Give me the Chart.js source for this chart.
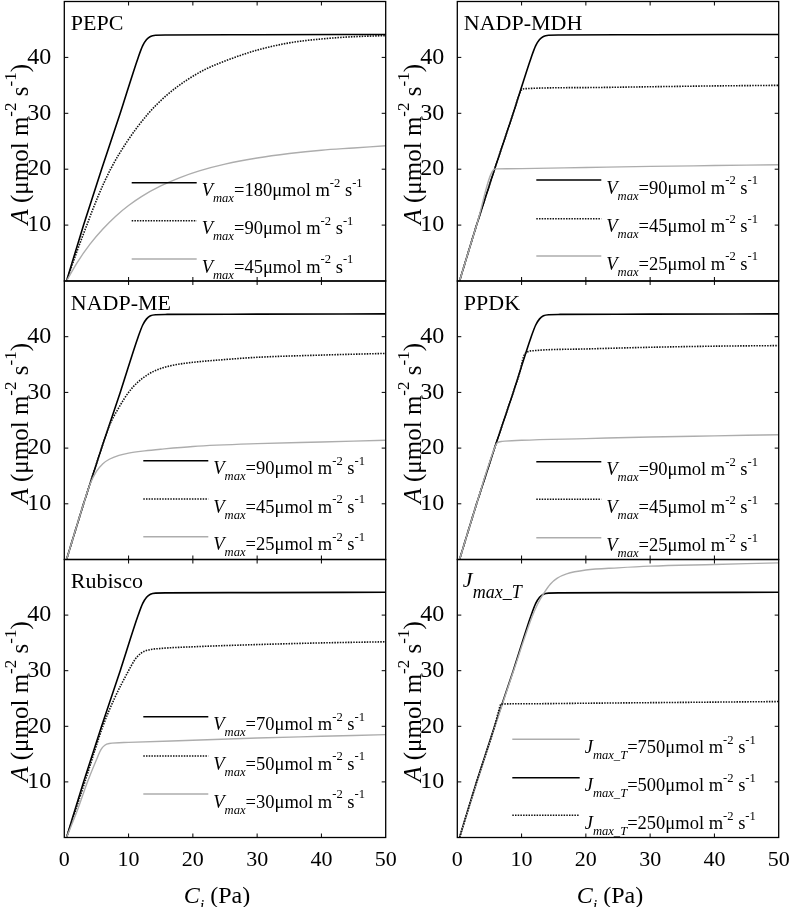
<!DOCTYPE html>
<html>
<head>
<meta charset="utf-8">
<script src="https://cdn.jsdelivr.net/npm/chart.js@4.4.1/dist/chart.umd.min.js"></script>
<style>
html,body{margin:0;padding:0;background:#fff;}
#wrap{position:relative;width:793px;height:907px;background:#fff;overflow:hidden;}
#wrap canvas{position:absolute;left:0;top:0;}
</style>
</head>
<body>
<div id="wrap"></div>
<script>
// ---------------- DATA ----------------
const xTicks = [0, 10, 20, 30, 40, 50];
const yTicks = [10, 20, 30, 40];

// common reference curve (black solid, same in every panel)
const ciRef = [0.35, 3.0, 5.8, 8.7, 11.5, 12.2, 12.8, 13.4, 14.2, 16, 30, 50];
const aRef  = [0, 10, 20, 30, 40, 42.1, 43.2, 43.75, 43.95, 44.0, 44.05, 44.1];

// PEPC
const ciPEPC90 = [0.35, 2, 3.5, 5.2, 7.2, 9.8, 13.1, 16, 19, 22, 25.8, 30, 35, 40, 45, 50];
const aPEPC90  = [0, 5.4, 10, 15, 20, 25, 30, 33.3, 35.9, 37.9, 39.7, 41.3, 42.6, 43.3, 43.7, 43.9];
const ciPEPC45 = [0.35, 2, 4, 6, 8, 10, 12, 15, 18, 21, 25, 30, 35, 40, 45, 50];
const aPEPC45  = [0, 3.3, 6.6, 9.3, 11.6, 13.5, 15.1, 17.0, 18.5, 19.7, 20.9, 22.0, 22.8, 23.4, 23.8, 24.2];

// NADP-MDH
const ciMDH45 = [0.35, 3.0, 5.8, 8.7, 9.6, 10.0, 10.5, 20, 30, 40, 50];
const aMDH45  = [0, 10, 20, 30, 33.2, 34.2, 34.4, 34.6, 34.75, 34.9, 35.0];
const ciMDH25 = [0.35, 3.0, 5.8, 6.2, 10, 20, 30, 40, 50];
const aMDH25  = [0, 10, 20, 20.05, 20.1, 20.3, 20.5, 20.65, 20.8];

// NADP-ME
const ciME45 = [0.35, 3.0, 5.8, 7, 8.5, 10, 11.5, 13, 15, 17.5, 20, 25, 30, 40, 50];
const aME45  = [0, 10, 20, 24, 27.3, 30, 31.9, 33.2, 34.3, 35, 35.4, 35.9, 36.3, 36.7, 37.0];
const ciME25 = [0.35, 3.0, 4, 5, 6, 7, 8.5, 10, 12.5, 15, 20, 30, 40, 50];
const aME25  = [0, 10, 13.5, 15.8, 17.2, 18, 18.7, 19.1, 19.5, 19.8, 20.3, 20.8, 21.1, 21.4];

// PPDK
const ciPPDK45 = [0.35, 3.0, 5.8, 8.7, 9.7, 10.3, 10.8, 12, 20, 30, 40, 50];
const aPPDK45  = [0, 10, 20, 30, 33.5, 36.4, 37.2, 37.5, 37.8, 38.1, 38.3, 38.4];
const ciPPDK25 = [0.35, 3.0, 5.8, 6.2, 7, 10, 20, 30, 40, 50];
const aPPDK25  = [0, 10, 20, 20.9, 21.2, 21.4, 21.7, 22.0, 22.2, 22.4];

// Rubisco
const ciRub50 = [0.35, 3.2, 6.0, 7.8, 10, 11, 12, 13, 15, 20, 30, 40, 50];
const aRub50  = [0, 10, 20, 25, 30, 32, 33.2, 33.7, 34.0, 34.3, 34.7, 35.0, 35.2];
const ciRub30 = [0.35, 2, 3.6, 5, 5.7, 6.3, 7, 10, 20, 30, 40, 50];
const aRub30  = [0, 4.8, 10, 14, 15.8, 16.6, 16.9, 17.1, 17.5, 17.9, 18.2, 18.5];

// Jmax_T
const ciJ750 = [0.35, 3.0, 5.8, 8.7, 11.6, 12.5, 13.5, 14.5, 15.5, 17, 20, 25, 30, 40, 50];
const aJ750  = [0, 9.7, 19.8, 29.8, 39.6, 42.0, 44.0, 45.6, 46.6, 47.4, 48.1, 48.5, 48.8, 49.1, 49.4];
const ciJ250 = [0.35, 3.0, 5.8, 6.4, 6.8, 10, 20, 30, 40, 50];
const aJ250  = [0, 10, 20, 22.6, 24.0, 24.05, 24.15, 24.25, 24.35, 24.45];

// legend values
const vPEPC = ['180', '90', '45'];
const vMDH  = ['90', '45', '25'];
const vME   = ['90', '45', '25'];
const vPPDK = ['90', '45', '25'];
const vRub  = ['70', '50', '30'];
const vJ    = ['750', '500', '250'];

// ---------------- STYLES / LAYOUT ----------------
const FONT = '"Liberation Serif", "Times New Roman", serif';
const STY = {
  solid:  {color: '#000', width: 1.6, dash: []},
  dotted: {color: '#111', width: 1.6, dash: [1.5, 1.2]},
  grey:   {color: '#adadad', width: 1.4, dash: []}
};
const COLS = [{L: 64.3, R: 385.7}, {L: 457.3, R: 778.7}];
const ROWS = [{T: 1.5, B: 281}, {T: 281, B: 559.5}, {T: 559.5, B: 837.5}];

const panels = [
  {label: 'PEPC', col: 0, row: 0, sym: 'V', sub: 'max', vals: vPEPC,
   series: [[ciPEPC45, aPEPC45, 'grey'], [ciPEPC90, aPEPC90, 'dotted'], [ciRef, aRef, 'solid']],
   legendStyles: ['solid', 'dotted', 'grey'], lg: {x0: 67.4, x1: 132.4, y: [181.2, 219.2, 257.5]}},
  {label: 'NADP-MDH', col: 1, row: 0, sym: 'V', sub: 'max', vals: vMDH,
   series: [[ciMDH25, aMDH25, 'grey'], [ciMDH45, aMDH45, 'dotted'], [ciRef, aRef, 'solid']],
   legendStyles: ['solid', 'dotted', 'grey'], lg: {x0: 79, x1: 144, y: [178.5, 217.2, 254.5]}},
  {label: 'NADP-ME', col: 0, row: 1, sym: 'V', sub: 'max', vals: vME,
   series: [[ciME25, aME25, 'grey'], [ciME45, aME45, 'dotted'], [ciRef, aRef, 'solid']],
   legendStyles: ['solid', 'dotted', 'grey'], lg: {x0: 79, x1: 144, y: [179.7, 218, 255.7]}},
  {label: 'PPDK', col: 1, row: 1, sym: 'V', sub: 'max', vals: vPPDK,
   series: [[ciPPDK25, aPPDK25, 'grey'], [ciPPDK45, aPPDK45, 'dotted'], [ciRef, aRef, 'solid']],
   legendStyles: ['solid', 'dotted', 'grey'], lg: {x0: 79, x1: 144, y: [180.7, 218.3, 256.7]}},
  {label: 'Rubisco', col: 0, row: 2, sym: 'V', sub: 'max', vals: vRub,
   series: [[ciRub30, aRub30, 'grey'], [ciRub50, aRub50, 'dotted'], [ciRef, aRef, 'solid']],
   legendStyles: ['solid', 'dotted', 'grey'], lg: {x0: 79, x1: 144, y: [157.2, 196.5, 234.5]}},
  {label: null, col: 1, row: 2, sym: 'J', sub: 'max_T', vals: vJ,
   series: [[ciJ250, aJ250, 'dotted'], [ciJ750, aJ750, 'grey'], [ciRef, aRef, 'solid']],
   legendStyles: ['grey', 'solid', 'dotted'], lg: {x0: 55, x1: 122.4, y: [179.8, 218.2, 255.8]}}
];

// ---------------- RICH TEXT HELPER ----------------
function rich(ctx, x, y, parts, base) {
  let cx = x;
  for (const [t, s] of parts) {
    let size = base, dy = 0;
    const it = s.indexOf('i') >= 0;
    if (s.indexOf('sub') >= 0) { size = base * 0.68; dy = base * 0.33; }
    if (s.indexOf('sup') >= 0) { size = base * 0.68; dy = -base * 0.5; }
    ctx.font = (it ? 'italic ' : '') + size + 'px ' + FONT;
    ctx.fillText(t, cx, y + dy);
    cx += ctx.measureText(t).width;
  }
  return cx - x;
}
function richWidth(ctx, parts, base) {
  let w = 0;
  for (const [t, s] of parts) {
    let size = base;
    const it = s.indexOf('i') >= 0;
    if (s.indexOf('sub') >= 0 || s.indexOf('sup') >= 0) size = base * 0.68;
    ctx.font = (it ? 'italic ' : '') + size + 'px ' + FONT;
    w += ctx.measureText(t).width;
  }
  return w;
}

// ---------------- PLUGIN ----------------
function decor(p) {
  return {
    id: 'decor',
    afterDraw(chart) {
      const ctx = chart.ctx, ca = chart.chartArea;
      const xs = chart.scales.x, ys = chart.scales.y;
      ctx.save();
      // frame
      ctx.strokeStyle = '#000'; ctx.lineWidth = 1.3; ctx.setLineDash([]);
      ctx.strokeRect(ca.left, ca.top, ca.right - ca.left, ca.bottom - ca.top);
      // inward ticks
      ctx.lineWidth = 1;
      ctx.beginPath();
      for (const v of xTicks.slice(1, -1)) {
        const x = xs.getPixelForValue(v);
        ctx.moveTo(x, ca.bottom); ctx.lineTo(x, ca.bottom - 4);
        ctx.moveTo(x, ca.top); ctx.lineTo(x, ca.top + 4);
      }
      for (const v of yTicks) {
        const y = ys.getPixelForValue(v);
        ctx.moveTo(ca.left, y); ctx.lineTo(ca.left + 4, y);
        ctx.moveTo(ca.right, y); ctx.lineTo(ca.right - 4, y);
      }
      ctx.stroke();
      ctx.fillStyle = '#000';
      ctx.textBaseline = 'alphabetic'; ctx.textAlign = 'left';
      // panel label
      if (p.label) {
        ctx.font = '22px ' + FONT;
        ctx.fillText(p.label, ca.left + 6.5, ca.top + 28.5);
      } else {
        ctx.font = 'italic 22px ' + FONT;
        ctx.fillText('J', ca.left + 5.5, ca.top + 27.5);
        ctx.font = 'italic 18px ' + FONT;
        ctx.fillText('max_T', ca.left + 15.5, ca.top + 38.5);
      }
      // legend
      for (let i = 0; i < 3; i++) {
        const st = STY[p.legendStyles[i]];
        const y = ca.top + p.lg.y[i];
        ctx.strokeStyle = st.color; ctx.lineWidth = st.width; ctx.setLineDash(st.dash);
        ctx.beginPath(); ctx.moveTo(ca.left + p.lg.x0, y); ctx.lineTo(ca.left + p.lg.x1, y); ctx.stroke();
        ctx.setLineDash([]);
        const parts = [[p.sym, 'i'], [p.sub, 'isub'], ['=' + p.vals[i] + 'μmol m', ''], ['-2', 'sup'], [' s', ''], ['-1', 'sup']];
        rich(ctx, ca.left + p.lg.x1 + 5, y + 13.5, parts, 18.5);
      }
      // y title
      const yParts = [['A', 'i'], [' (μmol m', ''], ['-2', 'sup'], [' s', ''], ['-1', 'sup'], [')', '']];
      const yw = richWidth(ctx, yParts, 25);
      ctx.save();
      ctx.translate(ca.left - 36, (ca.top + ca.bottom) / 2 + 3);
      ctx.rotate(-Math.PI / 2);
      rich(ctx, -yw / 2, 0, yParts, 25);
      ctx.restore();
      // x title
      if (p.row === 2) {
        const xParts = [['C', 'i'], ['i', 'isub'], [' (Pa)', '']];
        const xw = richWidth(ctx, xParts, 24);
        rich(ctx, (ca.left + ca.right) / 2 - 8 - xw / 2, 903, xParts, 24);
      }
      ctx.restore();
    }
  };
}

// ---------------- BUILD CHARTS ----------------
Chart.defaults.font.family = FONT;
Chart.defaults.color = '#000';
const wrap = document.getElementById('wrap');

for (const p of panels) {
  const c = document.createElement('canvas');
  c.width = 793; c.height = 907;
  c.style.width = '793px'; c.style.height = '907px';
  wrap.appendChild(c);
  const L = COLS[p.col].L, R = COLS[p.col].R, T = ROWS[p.row].T, B = ROWS[p.row].B;
  const YW = 50, XH = p.row === 2 ? 50 : 0;
  new Chart(c, {
    type: 'line',
    data: {
      datasets: p.series.map(([xs, ys, st]) => ({
        data: xs.map((x, i) => ({x: x, y: ys[i]})),
        borderColor: STY[st].color,
        borderWidth: STY[st].width,
        borderDash: STY[st].dash,
        pointRadius: 0,
        fill: false,
        cubicInterpolationMode: 'monotone'
      }))
    },
    options: {
      responsive: false, animation: false, devicePixelRatio: 1,
      layout: {padding: {left: L - YW, right: 793 - R, top: T, bottom: 907 - B - XH}},
      plugins: {legend: {display: false}, tooltip: {enabled: false}},
      scales: {
        x: {
          type: 'linear', min: 0, max: 50,
          grid: {display: false}, border: {display: false},
          afterBuildTicks(s) { s.ticks = xTicks.map(v => ({value: v})); },
          ticks: {display: p.row === 2, padding: 2, font: {size: 22}, color: '#000', maxRotation: 0, autoSkip: false},
          afterFit(s) { s.height = XH; s.paddingLeft = 0; s.paddingRight = 0; s.paddingTop = 0; s.paddingBottom = 0; }
        },
        y: {
          type: 'linear', min: 0, max: 50,
          grid: {display: false}, border: {display: false},
          afterBuildTicks(s) { s.ticks = yTicks.map(v => ({value: v})); },
          ticks: {padding: 5, font: {size: 24}, color: '#000'},
          afterFit(s) { s.width = YW; s.paddingTop = 0; s.paddingBottom = 0; s.paddingLeft = 0; s.paddingRight = 0; }
        }
      }
    },
    plugins: [decor(p)]
  });
}
</script>
</body>
</html>
